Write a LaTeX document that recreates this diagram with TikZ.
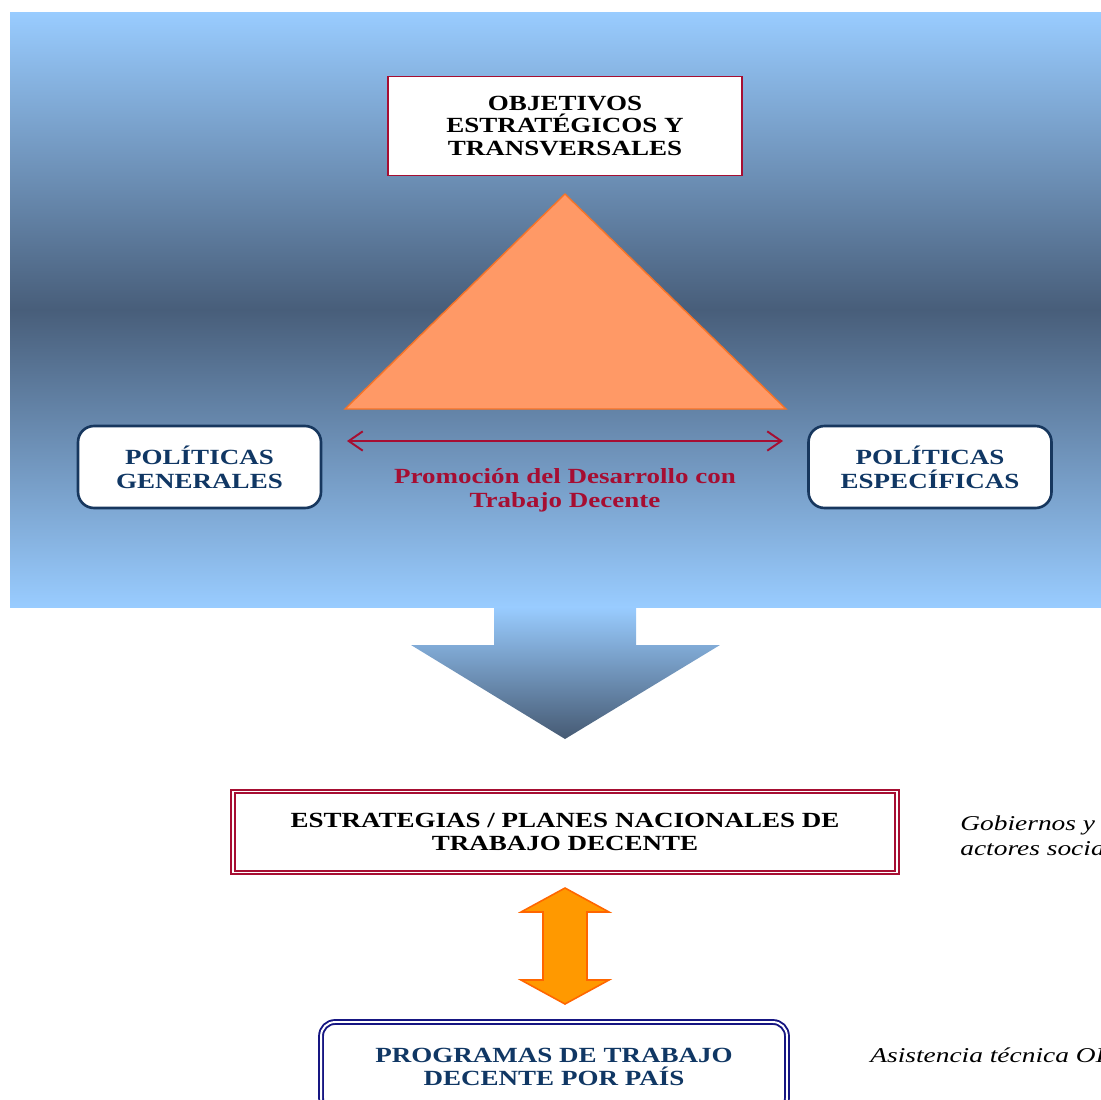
\documentclass[tikz,border=0pt]{standalone}
\usepackage{fontspec}
\setmainfont{Liberation Serif}
\newfontfamily\widefont[FakeStretch=1.25]{Liberation Serif}
\newfontfamily\widenote[FakeStretch=1.3]{Liberation Serif}
\usetikzlibrary{arrows.meta}
\definecolor{skyblue}{RGB}{153,204,255}
\definecolor{slateblue}{RGB}{72,94,122}
\definecolor{arrowdark}{RGB}{70,90,115}
\definecolor{crimson}{RGB}{166,14,50}
\definecolor{navytext}{RGB}{16,55,100}
\definecolor{navyline}{RGB}{23,55,94}
\definecolor{boxblue}{RGB}{22,22,130}
\definecolor{salmon}{RGB}{255,153,102}
\definecolor{salmonline}{RGB}{245,115,40}
\definecolor{ambar}{RGB}{255,153,0}
\definecolor{ambarline}{RGB}{255,102,0}

\begin{document}
\begin{tikzpicture}[x=0.02cm,y=-0.02cm,
  titlefont/.style={font=\widefont\bfseries\fontsize{12.3}{13.5}\selectfont},
  objbox/.style={draw=crimson,line width=1.1pt,fill=white,minimum width=7.08cm,minimum height=1.98cm,align=center,font=\widefont\bfseries\fontsize{12.3}{12.8}\selectfont},
  polbox/.style={draw=navyline,line width=1.5pt,fill=white,rounded corners=0.32cm,minimum width=4.86cm,minimum height=1.64cm,align=center,titlefont,text=navytext},
  sidenote/.style={font=\widenote\itshape\fontsize{12}{14}\selectfont,align=left,anchor=west,inner sep=0pt}
] %[x=0.02cm,y=-0.02cm]
\useasboundingbox (0,0) rectangle (1101,1099);
\clip (0,0) rectangle (1101,1099);
\shade[top color=skyblue,bottom color=skyblue,middle color=slateblue] (10,12) rectangle (1101,607);

\node[objbox] (obj) at (565,126) {OBJETIVOS\\ESTRATÉGICOS Y\\TRANSVERSALES};
\draw[salmonline,fill=salmon,line width=0.8pt] (565,194) -- (786,409) -- (345,409) -- cycle;

\node[polbox] (gen) at (199.5,467) {POLÍTICAS\\GENERALES};
\node[polbox] (esp) at (930,467) {POLÍTICAS\\ESPECÍFICAS};

\coordinate (la) at (347,441);
\coordinate (ra) at (783,441);
\draw[crimson,line width=1.1pt,{Straight Barb[length=8pt,width=11pt]}-{Straight Barb[length=8pt,width=11pt]}] (la) -- (ra);
\node[titlefont,text=crimson,align=center] (prom) at (565,490) {Promoción del Desarrollo con\\Trabajo Decente};

% flecha hacia abajo
\shade[top color=skyblue,bottom color=arrowdark] (494,607) -- (636,607) -- (636,645) -- (720,645) -- (565,739) -- (411,645) -- (494,645) -- cycle;

\node[draw=crimson,line width=1.1pt,double=white,double distance=1.1pt,fill=white,minimum width=13.28cm,minimum height=1.62cm,align=center,titlefont] (plan) at (565,832) {ESTRATEGIAS / PLANES NACIONALES DE\\TRABAJO DECENTE};
\node[sidenote] (gob) at (960,836) {Gobiernos y\\actores sociales};

\draw[ambarline,fill=ambar,line width=0.9pt] (565,888) -- (609,912) -- (587,912) -- (587,980) -- (609,980) -- (565,1004) -- (521,980) -- (543,980) -- (543,912) -- (521,912) -- cycle;

\node[draw=boxblue,line width=1.1pt,double=white,double distance=1.1pt,fill=white,rounded corners=0.28cm,minimum width=9.32cm,minimum height=1.8cm,align=center,titlefont,text=navytext] (prog) at (554,1067) {PROGRAMAS DE TRABAJO\\DECENTE POR PAÍS};
\node[sidenote] (oit) at (870,1055) {Asistencia técnica OIT};
\end{tikzpicture}
\end{document}
